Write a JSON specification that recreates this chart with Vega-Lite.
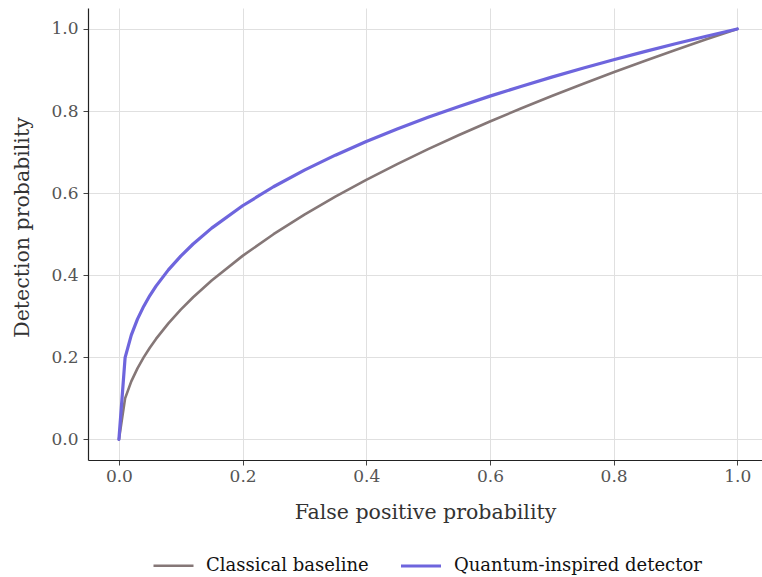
{
  "$schema": "https://vega.github.io/schema/vega-lite/v6.json",
  "width": 674,
  "height": 452,
  "autosize": {"type": "none"},
  "padding": {"left": 88, "top": 8, "right": 0, "bottom": 117},
  "background": "white",
  "config": {
    "view": {"stroke": null},
    "font": "DejaVu Serif",
    "axis": {
      "labelFont": "DejaVu Serif",
      "titleFont": "DejaVu Serif",
      "labelFontSize": 17,
      "titleFontSize": 20.5,
      "titleFontWeight": "normal",
      "labelColor": "#555555",
      "titleColor": "#333333",
      "gridColor": "#e0e0e0",
      "gridWidth": 1,
      "domainColor": "#222222",
      "domainWidth": 1.2,
      "tickColor": "#444444",
      "tickSize": 5
    }
  },
  "data": {"values": [
    {"fpr": 0, "tpr": 0, "model": "Classical baseline"},
    {"fpr": 0.01, "tpr": 0.1, "model": "Classical baseline"},
    {"fpr": 0.02, "tpr": 0.1414, "model": "Classical baseline"},
    {"fpr": 0.03, "tpr": 0.1732, "model": "Classical baseline"},
    {"fpr": 0.04, "tpr": 0.2, "model": "Classical baseline"},
    {"fpr": 0.05, "tpr": 0.2236, "model": "Classical baseline"},
    {"fpr": 0.06, "tpr": 0.2449, "model": "Classical baseline"},
    {"fpr": 0.08, "tpr": 0.2828, "model": "Classical baseline"},
    {"fpr": 0.1, "tpr": 0.3162, "model": "Classical baseline"},
    {"fpr": 0.12, "tpr": 0.3464, "model": "Classical baseline"},
    {"fpr": 0.15, "tpr": 0.3873, "model": "Classical baseline"},
    {"fpr": 0.2, "tpr": 0.4472, "model": "Classical baseline"},
    {"fpr": 0.25, "tpr": 0.5, "model": "Classical baseline"},
    {"fpr": 0.3, "tpr": 0.5477, "model": "Classical baseline"},
    {"fpr": 0.35, "tpr": 0.5916, "model": "Classical baseline"},
    {"fpr": 0.4, "tpr": 0.6325, "model": "Classical baseline"},
    {"fpr": 0.45, "tpr": 0.6708, "model": "Classical baseline"},
    {"fpr": 0.5, "tpr": 0.7071, "model": "Classical baseline"},
    {"fpr": 0.55, "tpr": 0.7416, "model": "Classical baseline"},
    {"fpr": 0.6, "tpr": 0.7746, "model": "Classical baseline"},
    {"fpr": 0.65, "tpr": 0.8062, "model": "Classical baseline"},
    {"fpr": 0.7, "tpr": 0.8367, "model": "Classical baseline"},
    {"fpr": 0.75, "tpr": 0.866, "model": "Classical baseline"},
    {"fpr": 0.8, "tpr": 0.8944, "model": "Classical baseline"},
    {"fpr": 0.85, "tpr": 0.922, "model": "Classical baseline"},
    {"fpr": 0.9, "tpr": 0.9487, "model": "Classical baseline"},
    {"fpr": 0.95, "tpr": 0.9747, "model": "Classical baseline"},
    {"fpr": 1, "tpr": 1, "model": "Classical baseline"},
    {"fpr": 0, "tpr": 0, "model": "Quantum-inspired detector"},
    {"fpr": 0.01, "tpr": 0.1995, "model": "Quantum-inspired detector"},
    {"fpr": 0.02, "tpr": 0.2543, "model": "Quantum-inspired detector"},
    {"fpr": 0.03, "tpr": 0.2931, "model": "Quantum-inspired detector"},
    {"fpr": 0.04, "tpr": 0.3241, "model": "Quantum-inspired detector"},
    {"fpr": 0.05, "tpr": 0.3505, "model": "Quantum-inspired detector"},
    {"fpr": 0.06, "tpr": 0.3736, "model": "Quantum-inspired detector"},
    {"fpr": 0.08, "tpr": 0.4131, "model": "Quantum-inspired detector"},
    {"fpr": 0.1, "tpr": 0.4467, "model": "Quantum-inspired detector"},
    {"fpr": 0.12, "tpr": 0.4761, "model": "Quantum-inspired detector"},
    {"fpr": 0.15, "tpr": 0.5148, "model": "Quantum-inspired detector"},
    {"fpr": 0.2, "tpr": 0.5693, "model": "Quantum-inspired detector"},
    {"fpr": 0.25, "tpr": 0.6156, "model": "Quantum-inspired detector"},
    {"fpr": 0.3, "tpr": 0.6561, "model": "Quantum-inspired detector"},
    {"fpr": 0.35, "tpr": 0.6925, "model": "Quantum-inspired detector"},
    {"fpr": 0.4, "tpr": 0.7256, "model": "Quantum-inspired detector"},
    {"fpr": 0.45, "tpr": 0.7562, "model": "Quantum-inspired detector"},
    {"fpr": 0.5, "tpr": 0.7846, "model": "Quantum-inspired detector"},
    {"fpr": 0.55, "tpr": 0.8112, "model": "Quantum-inspired detector"},
    {"fpr": 0.6, "tpr": 0.8363, "model": "Quantum-inspired detector"},
    {"fpr": 0.65, "tpr": 0.86, "model": "Quantum-inspired detector"},
    {"fpr": 0.7, "tpr": 0.8826, "model": "Quantum-inspired detector"},
    {"fpr": 0.75, "tpr": 0.9042, "model": "Quantum-inspired detector"},
    {"fpr": 0.8, "tpr": 0.9249, "model": "Quantum-inspired detector"},
    {"fpr": 0.85, "tpr": 0.9447, "model": "Quantum-inspired detector"},
    {"fpr": 0.9, "tpr": 0.9638, "model": "Quantum-inspired detector"},
    {"fpr": 0.95, "tpr": 0.9822, "model": "Quantum-inspired detector"},
    {"fpr": 1, "tpr": 1, "model": "Quantum-inspired detector"}
  ]},
  "mark": {"type": "line", "strokeCap": "round", "strokeJoin": "round"},
  "encoding": {
    "x": {
      "field": "fpr", "type": "quantitative",
      "scale": {"domain": [-0.05, 1.04], "nice": false, "zero": false},
      "axis": {"values": [0, 0.2, 0.4, 0.6, 0.8, 1.0], "format": ".1f", "title": "False positive probability", "labelPadding": 3, "titlePadding": 18}
    },
    "y": {
      "field": "tpr", "type": "quantitative",
      "scale": {"domain": [-0.05, 1.051], "nice": false, "zero": false},
      "axis": {"values": [0, 0.2, 0.4, 0.6, 0.8, 1.0], "format": ".1f", "title": "Detection probability", "labelPadding": 5, "titlePadding": 18, "titleY": 219}
    },
    "color": {
      "field": "model", "type": "nominal",
      "scale": {"domain": ["Classical baseline", "Quantum-inspired detector"], "range": ["#857777", "#6e65dd"]},
      "legend": {
        "title": null,
        "orient": "none",
        "direction": "horizontal",
        "legendX": 64,
        "legendY": 536,
        "symbolType": "stroke",
        "symbolSize": 1600,
        "symbolStrokeWidth": 3,
        "labelFont": "DejaVu Serif",
        "labelFontSize": 18,
        "labelColor": "#111111",
        "labelOffset": 11,
        "labelLimit": 400,
        "columnPadding": 25
      }
    },
    "strokeWidth": {
      "field": "model", "type": "nominal",
      "scale": {"domain": ["Classical baseline", "Quantum-inspired detector"], "range": [2.6, 3.2]},
      "legend": null
    }
  }
}
